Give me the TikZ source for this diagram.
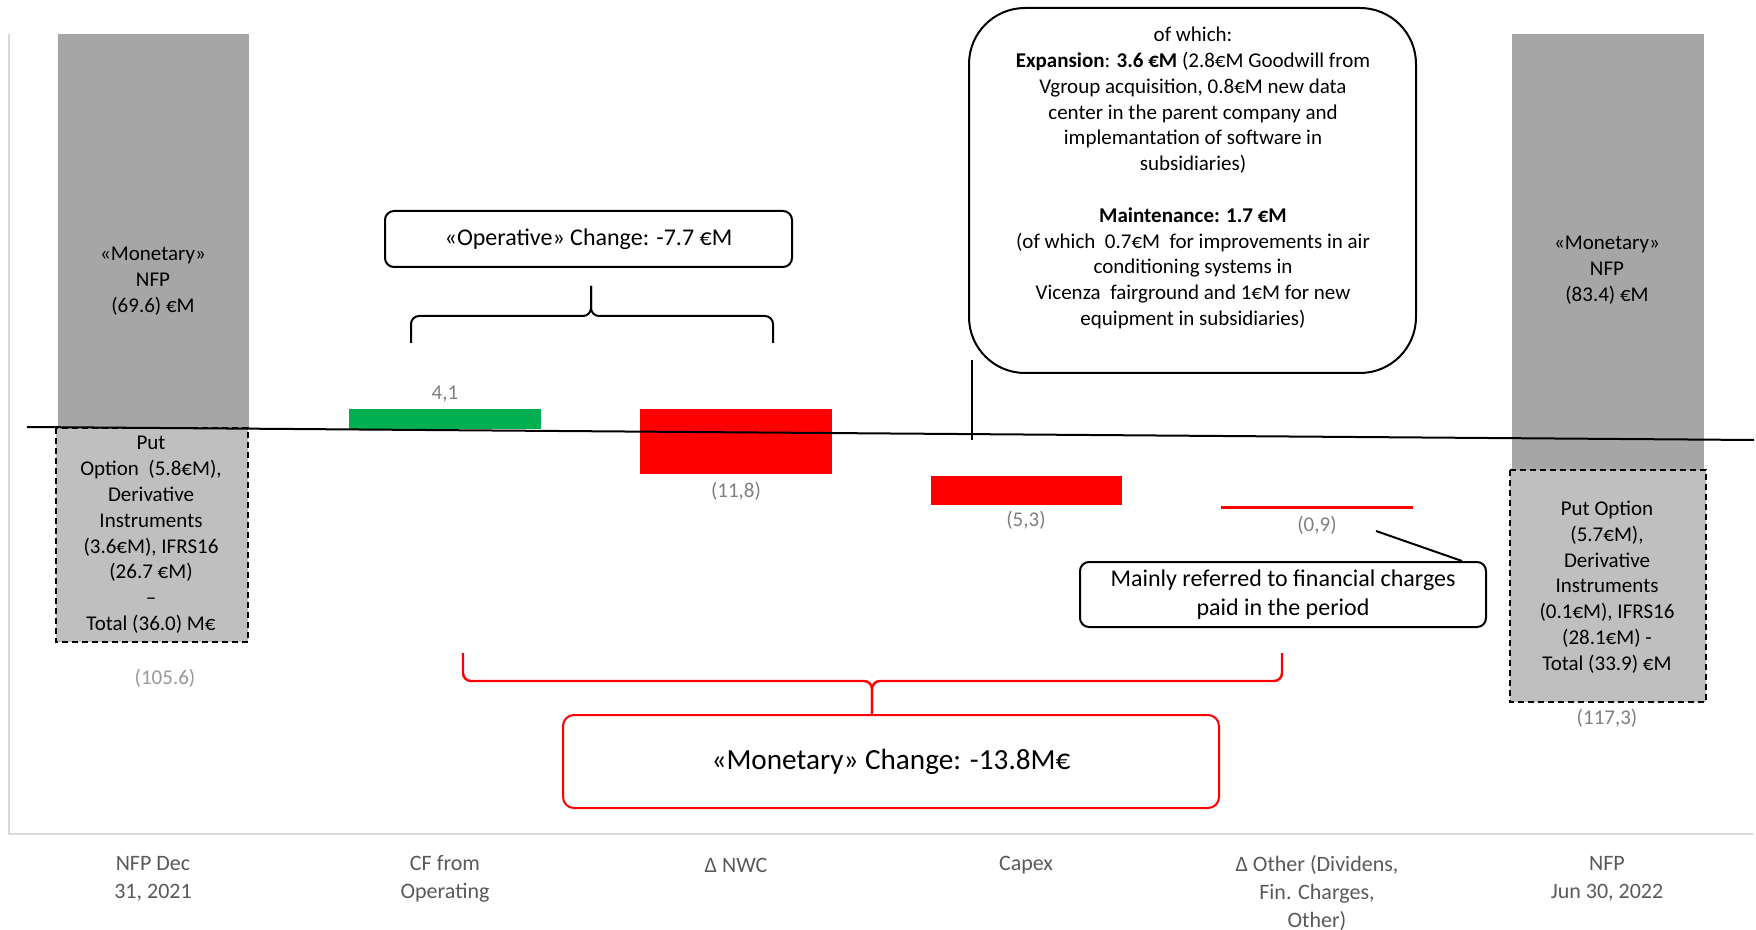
\documentclass[tikz,border=0pt]{standalone}
\usepackage{fontspec}
\setmainfont{Carlito}
\definecolor{barred}{HTML}{FF0000}
\definecolor{bargreen}{HTML}{00B050}
\definecolor{bardark}{HTML}{A6A6A6}
\definecolor{barlight}{HTML}{BFBFBF}
\definecolor{valgray}{HTML}{7F7F7F}
\definecolor{catgray}{HTML}{595959}
\definecolor{framegray}{HTML}{D9D9D9}
\begin{document}
\begin{tikzpicture}[x=0.5pt, y=-0.5pt,
	txt/.style={font=\fontsize{10.5}{12.9}\selectfont, align=center, inner sep=0pt},
	val/.style={txt, text=valgray},
	cat/.style={txt, text=catgray, font=\fontsize{11}{14}\selectfont},
	note/.style={txt, draw, line width=1pt, rounded corners=4.5pt, font=\fontsize{12}{14.5}\selectfont}]
	\useasboundingbox (0,0) rectangle (1756,930);
	\draw[framegray, line width=1pt] (9,34) -- (9,834) -- (1753,834);
	% bars
	\fill[bardark] (58,34) rectangle (249,428);
	\fill[barlight] (56,428) rectangle (248,642);
	\draw[line width=1pt, dash pattern=on 3pt off 2pt] (56,428) rectangle (248,642);
	\fill[bargreen] (349,409) rectangle (541,429);
	\fill[barred] (640,409) rectangle (832,474);
	\fill[barred] (931,476) rectangle (1122,505);
	\fill[barred] (1221,506) rectangle (1413,509);
	\fill[bardark] (1512,34) rectangle (1704,470);
	\fill[barlight] (1510,470) rectangle (1706,702);
	\draw[line width=1pt, dash pattern=on 3pt off 2pt] (1510,470) rectangle (1706,702);
	\draw[line width=1pt] (27,427) -- (1754,440);
	% texts in the bars
	\node[txt] (startcash) at (153,281) {«Monetary»\\NFP\\(69.6) €M};
	\node[txt] (startdebt) at (151,535) {Put\\Option~~(5.8€M),\\Derivative\\Instruments\\(3.6€M), IFRS16\\(26.7 €M)\\–\\Total (36.0) M€};
	\node[txt] (endcash) at (1607,270) {«Monetary»\\NFP\\(83.4) €M};
	\node[txt] (enddebt) at (1607,587) {Put Option\\(5.7€M),\\Derivative\\Instruments\\(0.1€M), IFRS16\\(28.1€M) -\\Total (33.9) €M};
	% values
	\node[val, text=valgray!80] (startval) at (165,678) {(105.6)};
	\node[val] (cfval) at (445,394) {4,1};
	\node[val] (nwcval) at (736,491) {(11,8)};
	\node[val] (capexval) at (1026,520) {(5,3)};
	\node[val] (otherval) at (1317,525) {(0,9)};
	\node[val] (endval) at (1607,718) {(117,3)};
	% categories
	\node[cat] (catstart) at (153,879) {NFP Dec\\31, 2021};
	\node[cat] (catcf) at (445,879) {CF from\\Operating};
	\node[cat] (catnwc) at (736,865) {Δ NWC};
	\node[cat] (catcapex) at (1026,865) {Capex};
	\node[cat] (catother) at (1317,893) {Δ Other (Dividens,\\Fin. Charges,\\Other)};
	\node[cat] (catend) at (1607,879) {NFP\\Jun 30, 2022};
	% notes
	\node[note, minimum width=203.5pt, minimum height=28pt] (opnote) at (588.5,239) {«Operative» Change: -7.7 €M};
	\draw[line width=1pt, rounded corners=28pt] (969,8) rectangle (1416,373);
	\node[txt] (capexnote) at (1193,178) {of which:\\
		\textbf{Expansion}: \textbf{3.6 €M} (2.8€M Goodwill from\\
		Vgroup acquisition, 0.8€M new data\\
		center in the parent company and\\
		implemantation of software in\\
		subsidiaries)\\[12.9pt]
		\textbf{Maintenance: 1.7 €M}\\
		(of which~~0.7€M~~for improvements in air\\
		conditioning systems in\\
		Vicenza~~fairground and 1€M for new\\
		equipment in subsidiaries)};
	\node[note, minimum width=203pt, minimum height=32.5pt] (finnote) at (1283,594.5) {Mainly referred to financial charges\\paid in the period};
	\node[note, draw=barred, rounded corners=5.5pt, minimum width=328pt, minimum height=46.5pt, font=\fontsize{14.6}{17}\selectfont] (monnote) at (891,761.5) {«Monetary» Change: -13.8M€};
	% pointers
	\coordinate (capexpin) at (972,360);
	\coordinate (capexfoot) at (972,440);
	\draw[line width=1pt] (capexpin) -- (capexfoot);
	\coordinate (finpin) at (1376,531);
	\draw[line width=1pt] (finpin) -- (finnote.north east -| 1462,0);
	% braces
	\coordinate (opbrace) at (591,316);
	\draw[line width=1pt, rounded corners=4pt] (411,343) |- (opbrace) -- (591,286);
	\draw[line width=1pt, rounded corners=4pt] (773,343) |- (opbrace) -- (591,286);
	\coordinate (monbrace) at (872,681);
	\draw[barred, line width=1.2pt, rounded corners=4pt] (463,653) |- (monbrace) -- (monbrace |- monnote.north);
	\draw[barred, line width=1.2pt, rounded corners=4pt] (1282,653) |- (monbrace) -- (monbrace |- monnote.north);
\end{tikzpicture}
\end{document}
